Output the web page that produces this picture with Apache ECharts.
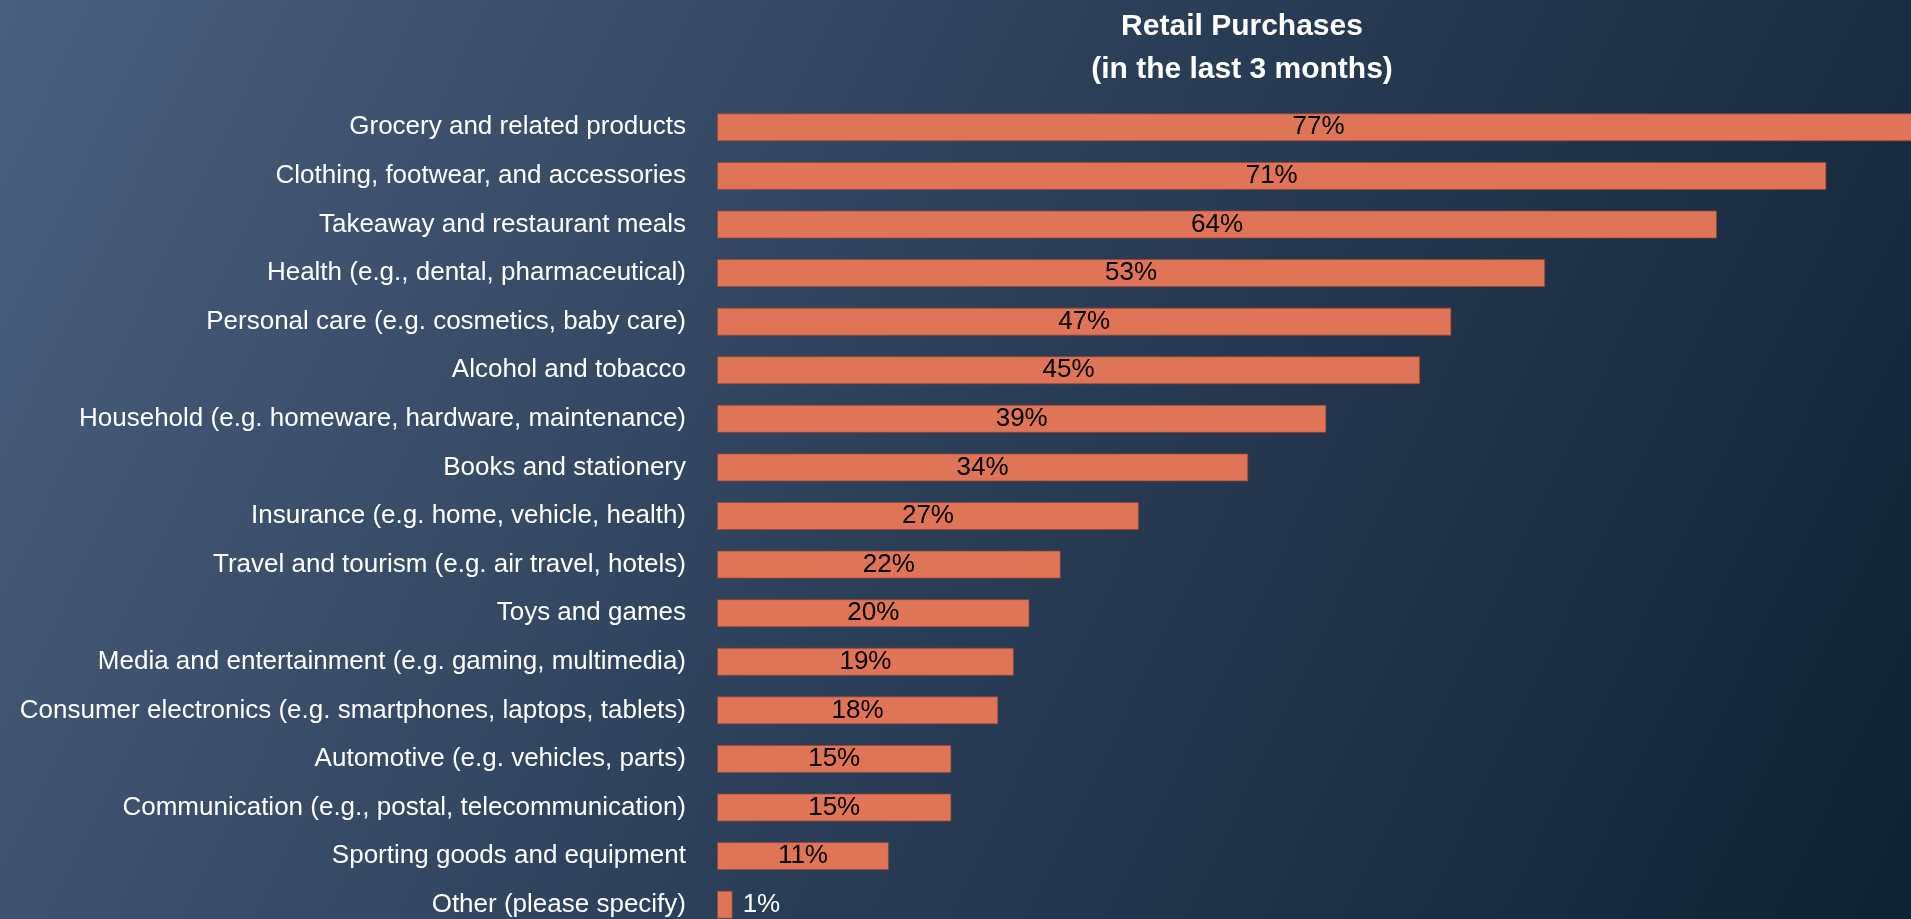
<!DOCTYPE html>
<html>
<head>
<meta charset="utf-8">
<title>Retail Purchases</title>
<script src="https://cdn.jsdelivr.net/npm/echarts@6/dist/echarts.min.js"></script>
<style>
  html, body { margin: 0; padding: 0; }
  #main { width: 1911px; height: 919px; }
</style>
</head>
<body>
<div id="main"></div>
<script>
// categories, top to bottom
var categories = [
  'Grocery and related products',
  'Clothing, footwear, and accessories',
  'Takeaway and restaurant meals',
  'Health (e.g., dental, pharmaceutical)',
  'Personal care (e.g. cosmetics, baby care)',
  'Alcohol and tobacco',
  'Household (e.g. homeware, hardware, maintenance)',
  'Books and stationery',
  'Insurance (e.g. home, vehicle, health)',
  'Travel and tourism (e.g. air travel, hotels)',
  'Toys and games',
  'Media and entertainment (e.g. gaming, multimedia)',
  'Consumer electronics (e.g. smartphones, laptops, tablets)',
  'Automotive (e.g. vehicles, parts)',
  'Communication (e.g., postal, telecommunication)',
  'Sporting goods and equipment',
  'Other (please specify)'
]
// share of respondents, %
var purchases = [77, 71, 64, 53, 47, 45, 39, 34, 27, 22, 20, 19, 18, 15, 15, 11, 1]

var font = "'Liberation Sans', Arial, sans-serif"

var myChart = echarts.init(document.getElementById('main'))
var option = {
  backgroundColor: new echarts.graphic.LinearGradient(0, 0, 1, 1, [
    { offset: 0, color: '#4a5f7e' },
    { offset: 0.5, color: '#2b3e58' },
    { offset: 1, color: '#0f2233' }
  ]),
  animation: false,
  title: {
    text: 'Retail Purchases\n(in the last 3 months)',
    left: 1237,
    top: 0,
    textAlign: 'center',
    textStyle: {
      color: '#ffffff',
      fontFamily: font,
      fontWeight: 'bold',
      fontSize: 30,
      lineHeight: 43
    }
  },
  grid: {
    left: 717,
    top: 103,
    width: 1250,
    height: 826,
    outerBoundsMode: 'none'
  },
  xAxis: {
    type: 'value',
    min: 0,
    max: 80,
    show: false
  },
  yAxis: {
    type: 'category',
    inverse: true,
    data: categories,
    axisLine: { show: false },
    axisTick: { show: false },
    axisLabel: {
      color: '#ffffff',
      fontFamily: font,
      fontSize: 26,
      margin: 31
    }
  },
  series: [
    {
      type: 'bar',
      barWidth: 28,
      clip: false,
      itemStyle: {
        color: '#df7556',
        borderColor: 'rgba(150,70,50,0.7)',
        borderWidth: 1
      },
      label: {
        show: true,
        position: 'inside',
        color: '#000000',
        fontFamily: font,
        fontSize: 26,
        formatter: '{c}%'
      },
      data: purchases.map(function (v) {
        if (v < 5) {
          return { value: v, label: { position: 'right', color: '#ffffff', distance: 10 } }
        }
        return v
      })
    }
  ]
}
myChart.setOption(option)
</script>
</body>
</html>
